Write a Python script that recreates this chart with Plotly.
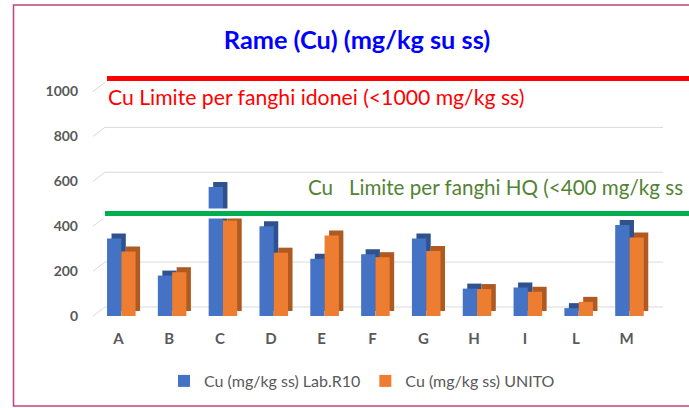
import plotly.graph_objects as go

# ---- data ----
categories = ["A", "B", "C", "D", "E", "F", "G", "H", "I", "L", "M"]
lab_r10 = [345, 180, 575, 400, 255, 275, 345, 122, 127, 35, 405]
unito = [287, 195, 425, 282, 358, 262, 289, 120, 108, 63, 350]
series_names = ["Cu (mg/kg ss) Lab.R10", "Cu (mg/kg ss) UNITO"]
y_ticks = [0, 200, 400, 600, 800, 1000]
grid_vals = [0, 200, 400, 600, 800]
title_text = "Rame (Cu) (mg/kg su ss)"
limit_idonei_text = "Cu Limite per fanghi idonei (<1000 mg/kg ss)"
limit_hq_text = "Cu   Limite per fanghi HQ (<400 mg/kg ss"
idonei_line_level = 1058   # drawn position of the red line
hq_line_level = 456        # drawn position of the green line

# ---- geometry ----
W, H = 689, 408
L, R, T, B = 93, 37, 69, 92
PW = W - L - R
PH = H - T - B
YMAX = 1100
ppu = PH / YMAX            # pixels per unit
def px_x(px):
    return (px - L) / PW
def px_y(py):
    return (H - B - py) / PH

blue, blue_d = "#4472C4", "#2F528F"
orange, orange_d = "#ED7D31", "#AE5A21"

bw = 0.281
off_b = -0.224
off_o = off_b + bw
dx = 4.5 / 50.8
dy = 5 / ppu

fig = go.Figure()
# depth (side / top) faces
fig.add_trace(go.Bar(x=categories, y=lab_r10, base=dy, offset=off_b + dx, width=bw,
                     marker=dict(color=blue_d, line=dict(width=0)), showlegend=False, hoverinfo="skip"))
fig.add_trace(go.Bar(x=categories, y=unito, base=dy, offset=off_o + dx, width=bw,
                     marker=dict(color=orange_d, line=dict(width=0)), showlegend=False, hoverinfo="skip"))
# front faces
fig.add_trace(go.Bar(x=categories, y=lab_r10, offset=off_b, width=bw, name=series_names[0],
                     marker=dict(color=blue, line=dict(width=0))))
fig.add_trace(go.Bar(x=categories, y=unito, offset=off_o, width=bw, name=series_names[1],
                     marker=dict(color=orange, line=dict(width=0))))

shapes = []
gdy = 9 / ppu
gx0 = px_x(105)
gx1 = px_x(663)
for v in grid_vals:
    shapes.append(dict(type="line", xref="paper", yref="y", x0=gx0, x1=gx1, y0=v + gdy, y1=v + gdy,
                       line=dict(color="#D9D9D9", width=1), layer="below"))
for v in y_ticks:
    shapes.append(dict(type="line", xref="paper", yref="y", x0=0, x1=gx0, y0=v, y1=v + gdy,
                       line=dict(color="#D9D9D9", width=1), layer="below"))
# white band + green line
shapes.append(dict(type="rect", xref="paper", yref="y", x0=px_x(100), x1=1.2,
                   y0=hq_line_level - 5 / ppu, y1=hq_line_level + 5 / ppu,
                   fillcolor="white", line=dict(width=0), layer="above"))
shapes.append(dict(type="line", xref="paper", yref="y", x0=px_x(105), x1=1.2,
                   y0=hq_line_level, y1=hq_line_level, line=dict(color="#00B050", width=5), layer="above"))
# red line
shapes.append(dict(type="line", xref="paper", yref="y", x0=px_x(107), x1=1.2,
                   y0=idonei_line_level, y1=idonei_line_level, line=dict(color="#FF0000", width=5), layer="above"))
# chart border
shapes.append(dict(type="rect", xref="paper", yref="paper", x0=px_x(13.5), x1=px_x(720),
                   y0=px_y(406), y1=px_y(5), line=dict(color="#C2407F", width=1.5), fillcolor="rgba(0,0,0,0)"))

annotations = [
    dict(text=limit_idonei_text, xref="paper", yref="paper", x=px_x(106), y=px_y(97),
         xanchor="left", yanchor="middle", showarrow=False,
         font=dict(family="Lato", size=21.2, color="#FF0000")),
    dict(text=limit_hq_text, xref="paper", yref="paper", x=px_x(306), y=px_y(187),
         xanchor="left", yanchor="middle", showarrow=False,
         font=dict(family="Lato", size=20.6, color="#548235")),
]

fig.update_layout(
    width=W, height=H,
    margin=dict(l=L, r=R, t=T, b=B, autoexpand=False),
    paper_bgcolor="white", plot_bgcolor="white",
    barmode="overlay",
    title=dict(text="<b>" + title_text + "</b>", x=357 / W, xref="container", xanchor="center",
               y=1 - 40 / H, yref="container", yanchor="middle",
               font=dict(family="Lato", size=25.3, color="#0000FF")),
    xaxis=dict(type="category", range=[-0.5, 10.5], showgrid=False, showline=False, zeroline=False,
               ticks="", ticklabelstandoff=12,
               tickfont=dict(family="Lato", size=15, color="#595959", weight="bold")),
    yaxis=dict(range=[0, YMAX], tickvals=y_ticks, showgrid=False, showline=False, zeroline=False,
               ticks="", ticklabelstandoff=14,
               tickfont=dict(family="Lato", size=14, color="#595959", weight="bold")),
    legend=dict(orientation="h", x=px_x(362), xanchor="center", y=px_y(381), yanchor="middle",
                font=dict(family="Lato", size=16, color="#595959"), traceorder="normal"),
    shapes=shapes, annotations=annotations,
    showlegend=True,
)

fig.write_html("out.html", config={"displayModeBar": False},
               post_script="document.body.style.margin='0px';")
